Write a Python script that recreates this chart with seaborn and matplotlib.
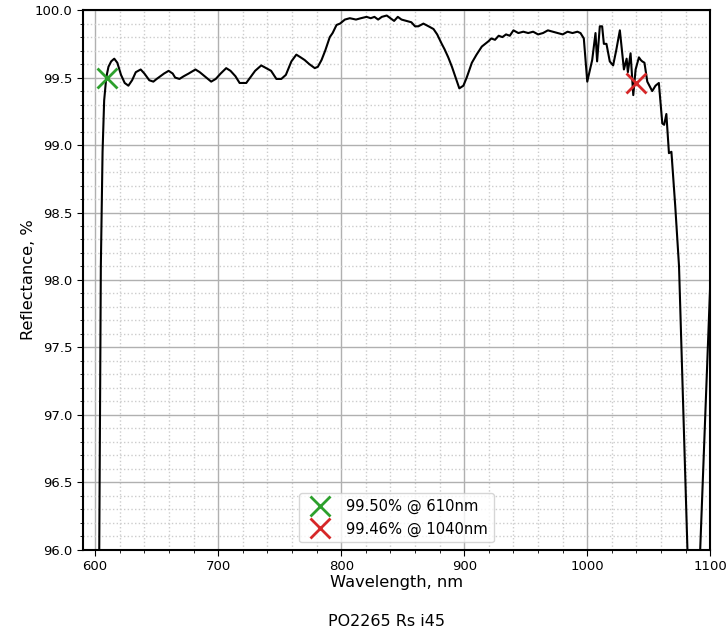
import numpy as np
import pandas as pd
import matplotlib
matplotlib.use("Agg")
import matplotlib.pyplot as plt
import seaborn as sns
from matplotlib.ticker import MultipleLocator, FormatStrFormatter

# spectrum (rows of 10 kept aligned)
wavelength = [603, 604.6, 606, 607.3, 609, 610.8, 613, 615.5, 618, 621,
              624, 627, 630, 633, 637, 640, 644, 647.3, 650, 653,
              656, 659.7, 663, 665, 668.5, 672, 676, 681.5, 685, 689,
              694.3, 698, 702, 706.5, 710, 714, 717.4, 722.8, 726, 730,
              735, 739, 743, 747.3, 751.3, 755, 759.5, 763.5, 767, 770.3,
              774, 778.5, 781, 784, 787, 790.7, 793, 796.2, 799, 803,
              807, 812, 816, 820.6, 824, 827, 830, 833, 837, 840,
              843, 846, 849, 853, 857, 860, 862.7, 866.8, 871, 875,
              878, 881.7, 884, 887, 890, 892.6, 896, 899.3, 902, 906.2,
              910, 914.3, 917, 919.8, 922, 925, 928, 931, 934, 937,
              940, 944, 948, 952, 956, 960, 964, 968, 972, 976,
              980, 984, 988, 992, 994.5, 997.2, 1000, 1002, 1004, 1006.7,
              1008, 1010.2, 1012.1, 1013.5, 1015.6, 1018.3, 1021, 1023.5, 1026.5, 1028.4,
              1029.8, 1032, 1033, 1035.2, 1037.4, 1039.3, 1042, 1043.5, 1044.7, 1046.5,
              1048.8, 1050.5, 1052.8, 1055.5, 1058.2, 1061, 1062.5, 1064.3, 1066.4, 1068.4,
              1071.5, 1074.6, 1086, 1100]
reflectance = [95.5, 98.1, 98.95, 99.33, 99.5, 99.58, 99.62, 99.64, 99.61, 99.52,
               99.46, 99.44, 99.48, 99.54, 99.56, 99.53, 99.48, 99.47, 99.49, 99.51,
               99.53, 99.55, 99.53, 99.50, 99.49, 99.51, 99.53, 99.56, 99.54, 99.51,
               99.47, 99.49, 99.53, 99.57, 99.55, 99.51, 99.46, 99.46, 99.50, 99.55,
               99.59, 99.57, 99.55, 99.49, 99.49, 99.52, 99.62, 99.67, 99.65, 99.63,
               99.60, 99.57, 99.58, 99.63, 99.70, 99.80, 99.83, 99.89, 99.90, 99.93,
               99.94, 99.93, 99.94, 99.95, 99.94, 99.95, 99.93, 99.95, 99.96, 99.94,
               99.92, 99.95, 99.93, 99.92, 99.91, 99.88, 99.88, 99.90, 99.88, 99.86,
               99.82, 99.75, 99.71, 99.65, 99.58, 99.51, 99.42, 99.44, 99.50, 99.61,
               99.67, 99.73, 99.75, 99.77, 99.79, 99.78, 99.81, 99.80, 99.82, 99.81,
               99.85, 99.83, 99.84, 99.83, 99.84, 99.82, 99.83, 99.85, 99.84, 99.83,
               99.82, 99.84, 99.83, 99.84, 99.83, 99.79, 99.47, 99.55, 99.63, 99.83,
               99.62, 99.88, 99.88, 99.75, 99.75, 99.62, 99.59, 99.70, 99.85, 99.68,
               99.56, 99.64, 99.54, 99.68, 99.37, 99.56, 99.65, 99.63, 99.62, 99.61,
               99.47, 99.44, 99.40, 99.44, 99.46, 99.16, 99.15, 99.23, 98.94, 98.95,
               98.55, 98.10, 94.6, 97.98]

marker_wl = [610, 1040]
marker_r = [99.50, 99.46]
marker_colors = ["#2ca02c", "#d62728"]
marker_labels = ["99.50% @ 610nm", "99.46% @ 1040nm"]
title = "PO2265 Rs i45"

df = pd.DataFrame({"wavelength": wavelength, "reflectance": reflectance})

sns.set_style("ticks")
plt.rcParams['font.family'] = ['DejaVu Sans']
plt.rcParams['text.color'] = 'black'
plt.rcParams['axes.labelcolor'] = 'black'
plt.rcParams['xtick.color'] = 'black'
plt.rcParams['ytick.color'] = 'black'

fig = plt.figure(figsize=(7.27, 6.32), dpi=100)
ax = fig.add_axes([0.114, 0.13, 0.863, 0.854])

sns.lineplot(data=df, x="wavelength", y="reflectance", color="black", linewidth=1.5,
             ax=ax, sort=False, estimator=None)
for w, r, c, lab in zip(marker_wl, marker_r, marker_colors, marker_labels):
    ax.plot(w, r, marker="x", linestyle="none", color=c, markersize=14,
            markeredgewidth=2, label=lab, zorder=5)

ax.set_xlim(590, 1100)
ax.set_ylim(96, 100)
ax.xaxis.set_major_locator(MultipleLocator(100))
ax.xaxis.set_minor_locator(MultipleLocator(20))
ax.yaxis.set_major_locator(MultipleLocator(0.5))
ax.yaxis.set_minor_locator(MultipleLocator(0.1))
ax.yaxis.set_major_formatter(FormatStrFormatter("%.1f"))
ax.grid(which="major", color="#b0b0b0", linewidth=1.0)
ax.grid(which="minor", color="#cccccc", linestyle=":", linewidth=1.0)
ax.set_axisbelow(True)
ax.tick_params(which="both", direction="out", labelsize=9.5, color="black")
ax.tick_params(which="major", length=4)
ax.tick_params(which="minor", length=2.5)
for s in ax.spines.values():
    s.set_visible(True)
    s.set_color("black")
    s.set_linewidth(1.5)

ax.set_xlabel("Wavelength, nm", fontsize=11.7, labelpad=1)
ax.set_ylabel("Reflectance, %", fontsize=11.7, labelpad=-1)
ax.legend(loc="lower center", fontsize=10.6)
fig.text(0.532, 0.004, title, ha="center", va="bottom", fontsize=11.5)

fig.savefig("out.png", dpi=100)
